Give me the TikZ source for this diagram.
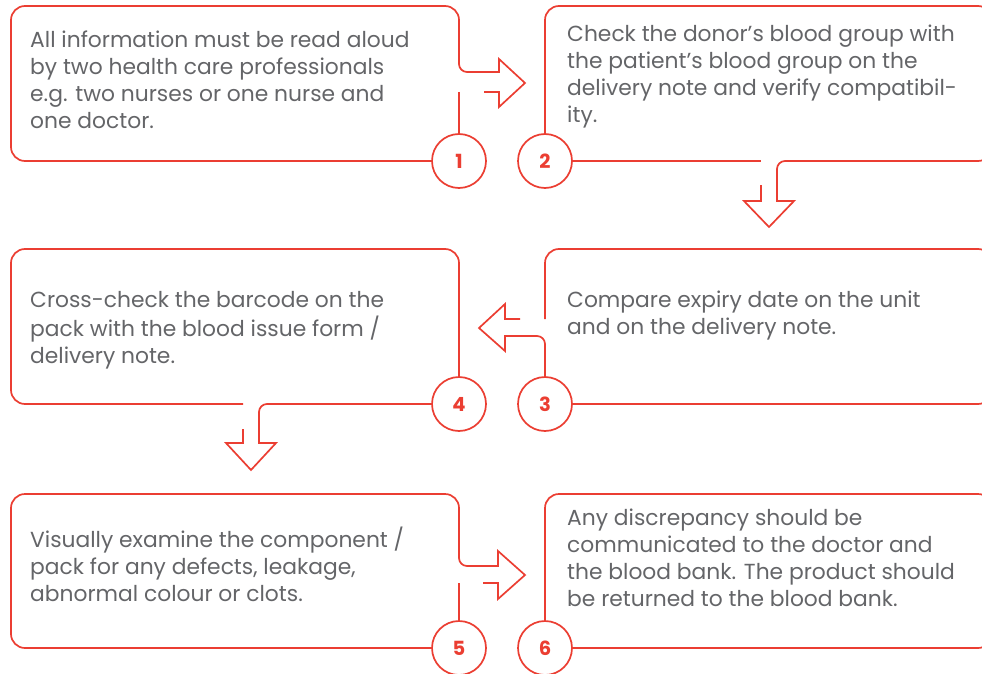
\documentclass[tikz,border=0pt]{standalone}
\usepackage{fontspec}
\setmainfont{Poppins}
\definecolor{rline}{RGB}{235,62,50}
\definecolor{gtext}{RGB}{100,101,104}
\tikzset{
  boxline/.style={draw=rline, line width=1.7pt},
  rc/.style={boxline, rounded corners=14pt},
  rs/.style={boxline, rounded corners=8pt},
  numcirc/.style={circle, draw=rline, line width=1.7pt, fill=white, minimum size=54pt, inner sep=0pt,
    text=rline, font=\fontsize{19.5}{22}\selectfont\bfseries},
  txt/.style={anchor=north west, inner sep=0pt, align=left, text=gtext,
    font=\fontsize{21.8}{27}\selectfont}
}
\begin{document}
\begin{tikzpicture}[x=1pt,y=-1pt]
\useasboundingbox (0,0) rectangle (982,674);
\clip (0,0) rectangle (982,674);
% circles
\node[numcirc] (n1) at (459,161) {1};
\node[numcirc] (n2) at (545,161) {2};
\node[numcirc] (n3) at (545,404) {3};
\node[numcirc] (n4) at (459,404) {4};
\node[numcirc] (n5) at (459,648) {5};
\node[numcirc] (n6) at (545,648) {6};
% box 1
\draw[rc] (n1.west) -- (11,161) -- (11,6) -- (459,6) -- (459,40);
\draw[rs] (459,40) -- (459,72) -- (490,72);
\draw[boxline] (490,72) -- (499,72) -- (499,59) -- (525,83) -- (499,107) -- (499,92) -- (484,92);
\draw[boxline] (459,92) -- (n1.north);
% box 2
\draw[rc] (n2.north) -- (545,6) -- (992,6) -- (992,100);
\draw[boxline] (n2.east) -- (761,161);
\draw[rc] (992,100) -- (992,161) -- (900,161);
\draw[rs] (900,161) -- (777,161) -- (777,190);
\draw[boxline] (777,190) -- (777,201) -- (794,201) -- (769,227) -- (744,201) -- (761,201) -- (761,185);
% box 3
\draw[boxline] (n3.east) -- (900,404);
\draw[rc] (900,404) -- (992,404) -- (992,249) -- (545,249) -- (545,319);
\draw[boxline] (520,319) -- (505,319) -- (505,304) -- (479,328) -- (505,351) -- (505,336) -- (530,336);
\draw[rs] (530,336) -- (545,336) -- (n3.north);
% box 4
\draw[rc] (n4.north) -- (459,249) -- (11,249) -- (11,404) -- (243,404);
\draw[rs] (n4.west) -- (259,404) -- (259,425);
\draw[boxline] (259,425) -- (259,443) -- (276,443) -- (251,470) -- (226,443) -- (243,443) -- (243,429);
% box 5
\draw[rc] (n5.west) -- (11,648) -- (11,494) -- (459,494) -- (459,530);
\draw[rs] (459,530) -- (459,566) -- (490,566);
\draw[boxline] (490,566) -- (498,566) -- (498,551) -- (525,575) -- (498,599) -- (498,583) -- (483,583);
\draw[boxline] (459,583) -- (n5.north);
% box 6
\draw[rc] (n6.north) -- (545,494) -- (992,494) -- (992,648) -- (n6.east);
% texts
\node[txt] (t1) at (30,28) {\strut All information must be read aloud\\by two health care professionals\\e.g. two nurses or one nurse and\\one doctor.};
\node[txt] (t2) at (567,22) {\strut Check the donor’s blood group with\\the patient’s blood group on the\\delivery note and verify compatibil-\\ity.};
\node[txt] (t3) at (567,288) {\strut Compare expiry date on the unit\\and on the delivery note.};
\node[txt] (t4) at (30,288) {\strut Cross-check the barcode on the\\pack with the blood issue form /\\delivery note.};
\node[txt] (t5) at (30,527) {\strut Visually examine the component /\\pack for any defects, leakage,\\abnormal colour or clots.};
\node[txt] (t6) at (567,506) {\strut Any discrepancy should be\\communicated to the doctor and\\the blood bank. The product should\\be returned to the blood bank.};
\end{tikzpicture}
\end{document}
